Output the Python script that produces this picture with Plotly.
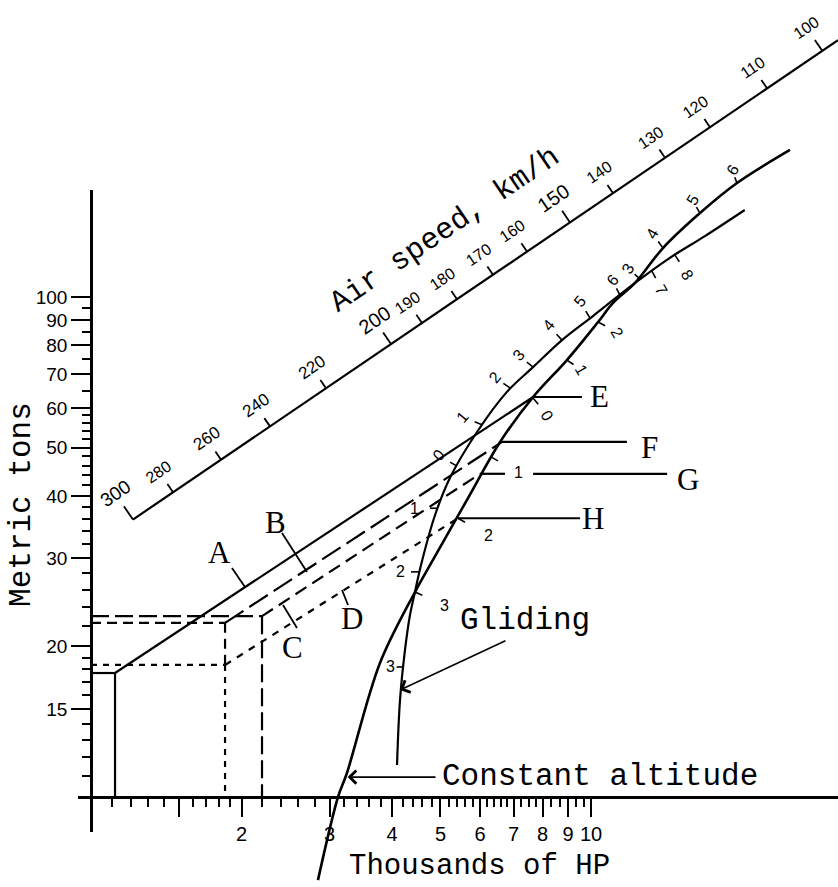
import math
import plotly.graph_objects as go

# ------------------------------------------------------------------
# DATA  -- x: thousands of HP, y: metric tons
# ------------------------------------------------------------------
hp_major = [1.5, 2, 3, 4, 5, 6, 7, 8, 9, 10]
hp_major_text = ["", "2", "3", "4", "5", "6", "7", "8", "9", "10"]
hp_minor = [1.1, 1.2, 1.3, 1.4, 1.6, 1.7, 1.8, 1.9, 2.2, 2.4, 2.6, 2.8,
            3.2, 3.4, 3.6, 3.8, 4.2, 4.4, 4.6, 4.8, 5.2, 5.4, 5.6, 5.8,
            6.2, 6.4, 6.6, 6.8, 7.25, 7.5, 7.75, 8.33, 8.67, 9.33, 9.67]
tons_major = [15, 20, 30, 40, 50, 60, 70, 80, 90, 100]
tons_minor = [11, 12, 13, 14, 16, 17, 18, 19, 22, 24, 26, 28, 32, 34, 36, 38,
              42, 44, 46, 48, 52, 54, 56, 58, 65, 75, 85, 95]

# air-speed scale (km/h) and where its ticks sit on the chart
airspeed_kmh = [300, 280, 260, 240, 220, 200, 190, 180, 170, 160, 150, 140, 130, 120, 110, 100]
airspeed_hp = [1.213, 1.459, 1.820, 2.280, 2.951, 3.981, 4.592, 5.395, 6.368, 7.447,
               9.078, 11.07, 14.06, 17.30, 22.49, 29.0]
airspeed_t = [35.88, 40.68, 47.28, 55.11, 65.69, 80.51, 88.72, 98.99, 110.8, 123.3,
              141.0, 161.3, 189.8, 218.6, 261.4, 310.7]
airspeed_end_hp, airspeed_end_t = 31.19, 326.3

# straight lines A-D (start, end)
line_names = ["A", "B", "C", "D"]
line_hp = [[1.117, 7.66], [1.854, 6.64], [2.198, 6.00], [1.854, 5.42]]
line_t = [[17.7, 63.1], [22.3, 51.3], [23.0, 44.3], [18.37, 36.1]]

# horizontal levels E-H
level_names = ["E", "F", "G", "H"]
level_t = [63.1, 51.3, 44.3, 36.1]
level_hp = [[(7.66, 9.59)], [(6.64, 11.8)], [(6.00, 6.73), (7.66, 14.2)], [(5.42, 9.51)]]

# reference (start) weights / powers drawn back to the axes
ref_hp = [1.117, 1.854, 1.854, 2.198]
ref_t = [17.7, 18.37, 22.3, 23.0]

# constant-altitude curve
ca_hp = [2.844, 3.119, 3.25, 3.784, 4.446, 4.83, 5.65, 6.58, 7.66, 8.95, 10.33,
         11.07, 12.25, 13.93, 16.52, 19.59, 25.0]
ca_t = [6.82, 10.0, 11.17, 18.54, 25.7, 29.8, 39.3, 51.3, 63.1, 74.8, 89.1,
        97.3, 106.7, 125.3, 147.2, 169.0, 196.8]

# gliding curve
gl_hp = [4.093, 4.15, 4.246, 4.345, 4.446, 4.571, 4.875, 5.224, 5.916, 6.79,
         7.66, 8.75, 10.09, 12.25, 14.26, 16.9, 20.3]
gl_t = [11.59, 15.63, 19.68, 23.12, 25.7, 29.1, 36.6, 43.5, 53.7, 64.6,
        72.4, 82.0, 91.6, 106.7, 119.1, 132.4, 149.3]

# marks on the curves: label, hp, tons
mark_text = ["0", "1", "2", "3", "4", "5", "6",
             "3", "4", "5", "6",
             "0", "1", "2",
             "7", "8",
             "1", "2", "3",
             "1", "2", "3"]
mark_hp = [5.395, 6.053, 6.887, 7.66, 8.75, 9.954, 11.43,
           12.53, 13.93, 16.52, 19.59,
           7.66, 8.95, 10.33,
           13.24, 14.72,
           6.31, 5.42, 4.446,
           4.943, 4.529, 4.188]
mark_t = [45.9, 55.5, 65.8, 72.4, 82.0, 90.8, 100.9,
          108.6, 125.3, 147.2, 169.0,
          62.8, 74.8, 89.1,
          112.7, 121.3,
          47.9, 36.1, 25.7,
          37.8, 28.2, 18.2]

# ------------------------------------------------------------------
# STYLE
# ------------------------------------------------------------------
W, H = 838, 887
XR = [-0.182, 1.494]        # log10 range of the drawing axes
YR = [0.820, 2.594]
PPD = W / (XR[1] - XR[0])   # pixels per decade

MONO = "Liberation Mono"
SERIF = "Liberation Serif"
DIG = "Liberation Sans"
INK = "black"

# pixel offsets of the mark labels from their curve point, and text angles
mark_off = [(-19, -11), (-19, -8), (-15, -10), (-15, -12), (-14, -15), (-10, -16), (-8, -15),
            (-12, -11), (-11, -15), (-8, -13), (-5, -13),
            (14, 17), (15, 10), (19, 10),
            (10, 19), (13, 20),
            (27, 16), (30, 17), (30, 13),
            (-24, 0), (-19, 0), (-12, 0)]
mark_ang = [-50] * 7 + [-60] * 4 + [60] * 3 + [60] * 2 + [0] * 6

line_dash = ["solid", "22px,7px", "13px,7px", "7px,7px"]
ref_dash = ["solid", "6px,6px", "10px,6px", "18px,6px"]
as_size = {300: 19, 260: 17, 240: 17, 220: 17, 200: 20, 150: 20}
as_ticklen = {300: 16, 200: 14, 150: 14, 100: 13}

fig = go.Figure()


def lg(v):
    return math.log10(v)


def shift(hp, t, dx, dy):
    """move a data point by a pixel offset (dy positive = down)"""
    return hp * 10 ** (dx / PPD), t * 10 ** (-dy / PPD)


def draw(xs, ys, width=2.2, dash="solid", shape="linear", xa="x", ya="y"):
    fig.add_trace(go.Scatter(x=xs, y=ys, mode="lines", xaxis=xa, yaxis=ya,
                             line=dict(color=INK, width=width, dash=dash, shape=shape),
                             hoverinfo="skip", showlegend=False))


def text(s, hp, t, size=16, family=DIG, angle=0, xanchor="center", yanchor="middle"):
    fig.add_annotation(x=lg(hp), y=lg(t), xref="x", yref="y", text=s, showarrow=False,
                       textangle=angle, xanchor=xanchor, yanchor=yanchor,
                       font=dict(family=family, size=size, color=INK))


# ---- reference lines back to the axes
for i, (h, t) in enumerate(zip(ref_hp, ref_t)):
    draw([1.0, h], [t, t], dash=ref_dash[i])
    lower = [t2 for h2, t2 in zip(ref_hp, ref_t) if h2 == h and t2 < t]
    bottom = max(lower) if lower else 10.0
    draw([h, h], [t, bottom], dash=ref_dash[i])

# ---- lines A-D
for i in range(4):
    draw(line_hp[i], line_t[i], dash=line_dash[i])

# ---- levels E-H
for i in range(4):
    for a, b in level_hp[i]:
        draw([a, b], [level_t[i], level_t[i]])

# ---- curves
draw(ca_hp, ca_t, width=2.6, shape="spline")
draw(gl_hp, gl_t, width=2.2, shape="spline")

# ---- curve marks
for s, h, t, (dx, dy), ang in zip(mark_text, mark_hp, mark_t, mark_off, mark_ang):
    d = math.hypot(dx, dy)
    k = min(8.0, 0.45 * d) / d
    h2, t2 = shift(h, t, dx * k, dy * k)
    draw([h, h2], [t, t2], width=1.6)
    lh, lt = shift(h, t, dx, dy)
    text(s, lh, lt, size=16, angle=ang)

# ---- air-speed scale (straight line from the 300 mark to the chart edge)
draw([airspeed_hp[0], airspeed_end_hp], [airspeed_t[0], airspeed_end_t], width=2.2)
ux = lg(airspeed_end_hp) - lg(airspeed_hp[0])
uy = lg(airspeed_end_t) - lg(airspeed_t[0])
n = math.hypot(ux, uy)
nx, ny = -uy / n, ux / n                        # normal, up-left (in decades)
ang = -math.degrees(math.atan2(uy, ux))
for v, h, t in zip(airspeed_kmh, airspeed_hp, airspeed_t):
    L = as_ticklen.get(v, 10)
    draw([h, h * 10 ** (nx * L / PPD)], [t, t * 10 ** (ny * L / PPD)], width=1.8)
    off = L + 15
    text(str(v), h * 10 ** (nx * off / PPD), t * 10 ** (ny * off / PPD),
         size=as_size.get(v, 16), angle=ang)

# ---- names
text("Air speed, km/h", 5.105, 136.1, size=30, family=MONO, angle=ang)
text("Metric tons", 0.728, 38.4, size=31, family=MONO, angle=-90)
text("Thousands of HP", 3.25, 7.25, size=29, family=MONO, xanchor="left")
text("Constant altitude", 4.98, 11.0, size=31, family=MONO, xanchor="left")
text("Gliding", 5.42, 22.5, size=31, family=MONO, xanchor="left")

name_hp = [1.811, 2.344, 2.535, 3.327, 10.4, 13.1, 15.6, 10.1]
name_t = [30.9, 35.48, 19.95, 22.8, 63.1, 49.9, 43.1, 36.1]
for s, h, t in zip(line_names + level_names, name_hp, name_t):
    text(s, h, t, size=31, family=SERIF)

# leaders for A-D
lead_hp = [[1.914, 2.032], [2.41, 2.704], [2.421, 2.582], [3.177, 3.266]]
lead_t = [[28.71, 26.3], [33.73, 28.18], [24.21, 21.78], [25.94, 24.21]]
for xs, ys in zip(lead_hp, lead_t):
    draw(xs, ys, width=1.8)

# arrows
for (th, tt), (hh, ht) in [((6.79, 20.6), (4.15, 16.37)), ((4.92, 10.96), (3.26, 10.96))]:
    fig.add_annotation(x=lg(hh), y=lg(ht), ax=lg(th), ay=lg(tt), xref="x", yref="y",
                       axref="x", ayref="y", text="", showarrow=True, arrowhead=4,
                       arrowsize=1.6, arrowwidth=1.6, arrowcolor=INK)

# ---- visible axes (separate, anchored where the original axes cross)
fig.add_trace(go.Scatter(x=[1], y=[10], xaxis="x2", yaxis="y2", mode="markers",
                         marker=dict(opacity=0), hoverinfo="skip", showlegend=False))

x2_left_px, y2_bottom_px, y2_top_px = 78, 832, 190
fig.update_layout(
    width=W, height=H, margin=dict(l=0, r=0, t=0, b=0),
    paper_bgcolor="white", plot_bgcolor="rgba(0,0,0,0)", showlegend=False,
    xaxis=dict(type="log", range=XR, domain=[0, 1], visible=False, fixedrange=True),
    yaxis=dict(type="log", range=YR, domain=[0, 1], visible=False, fixedrange=True),
    xaxis2=dict(type="log", domain=[x2_left_px / W, 1],
                range=[XR[0] + x2_left_px / PPD, XR[1]],
                anchor="free", position=(H - 797) / H,
                showline=True, linecolor=INK, linewidth=2.6, showgrid=False, zeroline=False,
                ticks="outside", ticklen=18, tickwidth=2, tickcolor=INK,
                tickvals=hp_major, ticktext=hp_major_text,
                tickfont=dict(family=DIG, size=20, color=INK),
                minor=dict(tickvals=hp_minor, ticks="outside", ticklen=8, tickwidth=1.8,
                           tickcolor=INK, showgrid=False)),
    yaxis2=dict(type="log", domain=[(H - y2_bottom_px) / H, (H - y2_top_px) / H],
                range=[YR[0] + (H - y2_bottom_px) / PPD, YR[1] - y2_top_px / PPD],
                anchor="free", position=91 / W,
                showline=True, linecolor=INK, linewidth=2.6, showgrid=False, zeroline=False,
                ticks="outside", ticklen=19, tickwidth=2, tickcolor=INK,
                tickvals=tons_major, ticktext=[str(v) for v in tons_major],
                tickfont=dict(family=DIG, size=19, color=INK),
                minor=dict(tickvals=tons_minor, ticks="outside", ticklen=8, tickwidth=1.8,
                           tickcolor=INK, showgrid=False)),
)

fig.write_html("out.html", config={"displayModeBar": False},
               post_script="document.body.style.margin='0px';document.body.style.padding='0px';")
